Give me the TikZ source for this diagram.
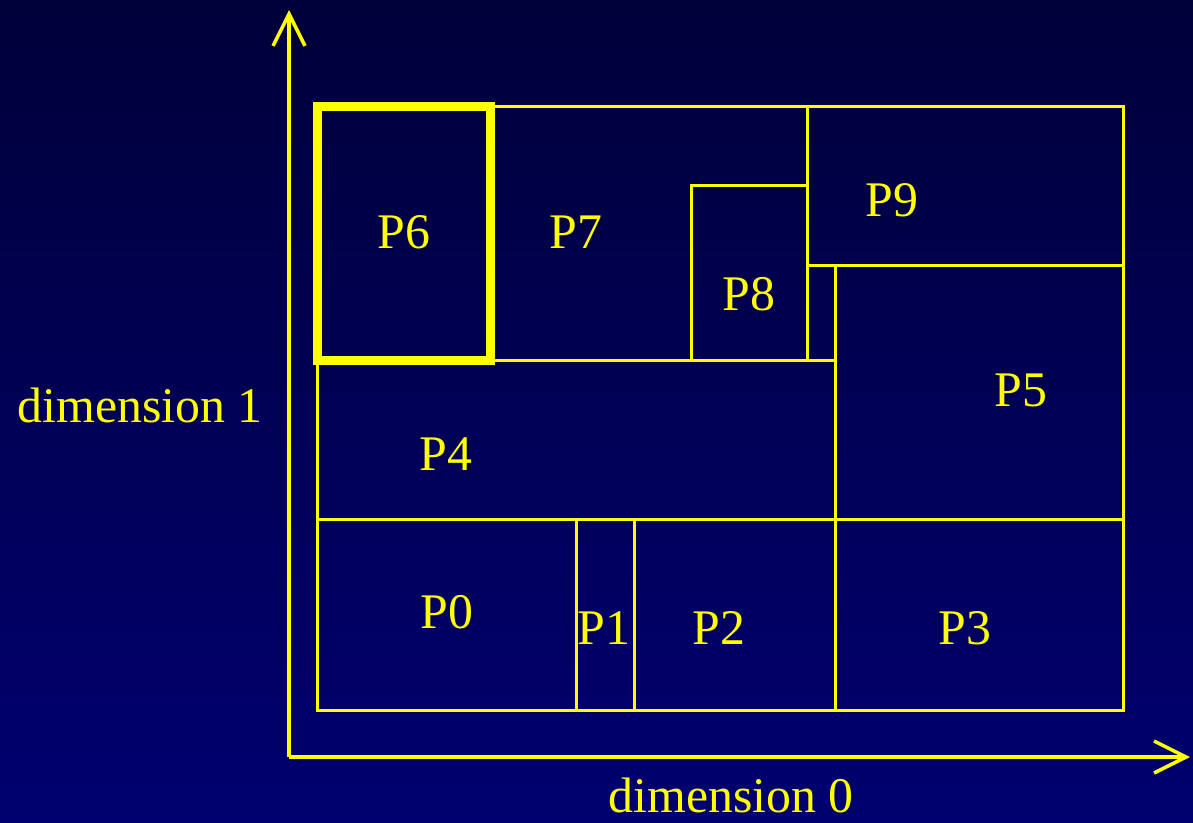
\documentclass[tikz,border=0pt]{standalone}
\usepackage{fontspec}
\setmainfont{Liberation Serif}
\usetikzlibrary{arrows.meta}
\definecolor{bgtop}{RGB}{0,0,58}
\definecolor{bgbot}{RGB}{0,0,112}
\definecolor{ylw}{RGB}{255,255,0}
\begin{document}
\begin{tikzpicture}[x=1bp,y=-1bp,
  part/.style={draw=ylw,line width=3bp},
  hot/.style={draw=ylw,line width=9bp,line join=miter},
  lbl/.style={text=ylw,font=\fontsize{50}{60}\selectfont,anchor=base,inner sep=0pt},
  axis/.style={draw=ylw,line width=3.5bp,-{Straight Barb[length=32bp,width=32bp,line width=3.5bp]}}]
\shade[top color=bgtop,bottom color=bgbot] (0,0) rectangle (1193,823);
\useasboundingbox (0,0) rectangle (1193,823);
% axes
\coordinate (o) at (289,757);
\coordinate (ytip) at (289,10);
\coordinate (xtip) at (1190,757);
\draw[axis] (o) -- (ytip);
\draw[axis] (o) -- (xtip);
% partitions
\draw[part] (317,106) rectangle (1123,710);
\draw[part] (491,106) -- (491,360);
\draw[part] (807,106) -- (807,360);
\draw[part] (691,360) -- (691,185) -- (807,185);
\draw[part] (807,265) -- (1123,265);
\draw[part] (835,265) -- (835,710);
\draw[part] (317,360) -- (835,360);
\draw[part] (317,519) -- (1123,519);
\draw[part] (576,519) -- (576,710);
\draw[part] (634,519) -- (634,710);
\draw[hot] (317.5,106) rectangle (490.5,360.5);
% labels
\node[lbl] (p6) at (404,248) {P6};
\node[lbl] (p7) at (576,248) {P7};
\node[lbl] (p8) at (749,310) {P8};
\node[lbl] (p9) at (892,216) {P9};
\node[lbl] (p5) at (1021,406) {P5};
\node[lbl] (p4) at (446,470) {P4};
\node[lbl] (p0) at (447,628) {P0};
\node[lbl] (p1) at (604,644) {P1};
\node[lbl] (p2) at (719,644) {P2};
\node[lbl] (p3) at (965,644) {P3};
\node[lbl] (d1) at (140,422) {dimension 1};
\node[lbl,text depth=0pt] (d0) at (731,812) {dimension 0};
\end{tikzpicture}
\end{document}
